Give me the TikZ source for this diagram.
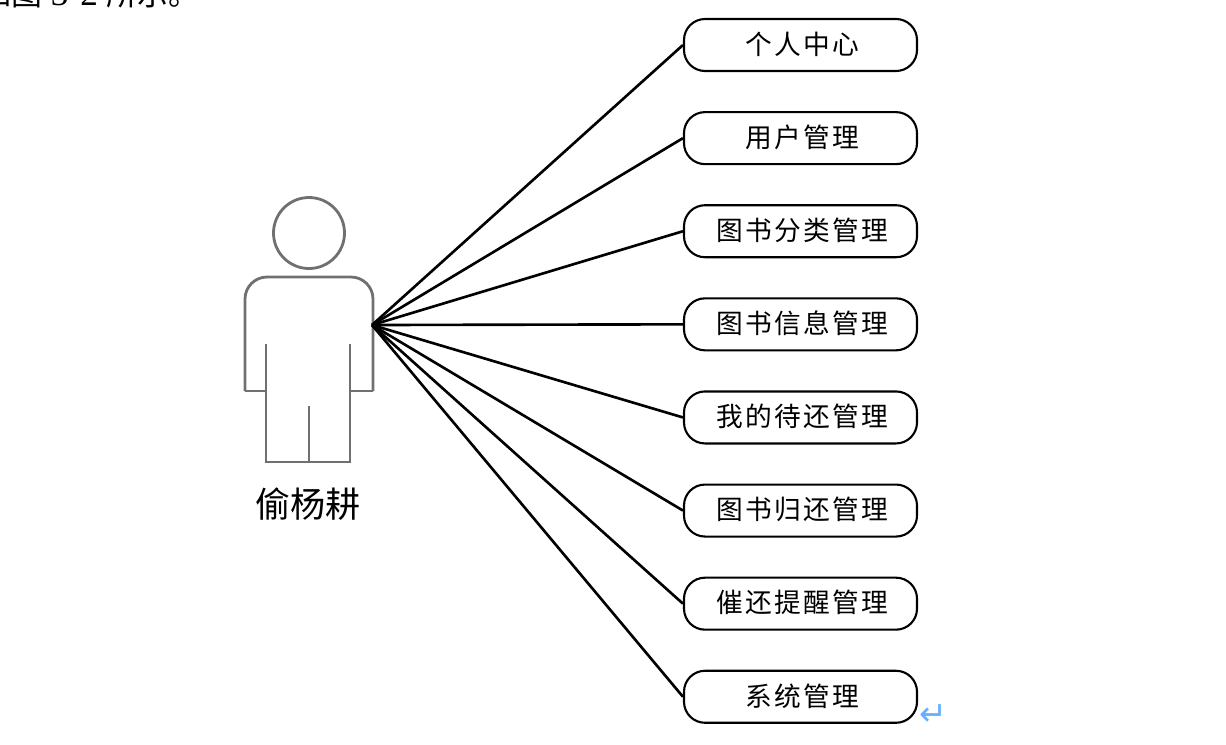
\documentclass[tikz,border=0pt]{standalone}
\usepackage{fontspec}
\setmainfont{Liberation Serif}
\newfontfamily\cjk{Noto Sans CJK SC}
\newfontfamily\cjkspaced[LetterSpace=9]{Noto Sans CJK SC}
\newfontfamily\symbolfont{DejaVu Sans}
\usetikzlibrary{positioning}
\definecolor{actorgray}{HTML}{707070}
\definecolor{markblue}{HTML}{66AEFF}

\begin{document}
\begin{tikzpicture}[
		% Style for the function boxes
		usecase/.style={
			draw=black, line width=1.2pt, fill=white, rounded corners=0.42cm,
			minimum width=4.66cm, minimum height=1.04cm, inner sep=0pt,
			text height=13pt, text depth=2.5pt,
			execute at begin node=\kern2.3pt,
			font=\cjkspaced\fontsize{15.2}{17}\selectfont
		},
		% Style for the lines from the actor
		link/.style={draw=black, line width=1.5pt},
		% Style for the actor figure
		figure/.style={draw=actorgray, line width=1.6pt}
		]
		
		\useasboundingbox (0,0) rectangle (24.52,-14.88);
		
		% ==========================================
		% 1. THE TOP: Cut-off line of body text
		% ==========================================
		\node[anchor=base west, inner sep=0pt, font=\fontsize{20}{22}\selectfont] (caption) at (-0.4,-0.1) {{\cjk\fontsize{17.6}{20}\selectfont 如图} 3-2 {\cjk\fontsize{17.6}{20}\selectfont 所示。}};
		
		% ==========================================
		% 2. THE LEFT: Actor
		% ==========================================
		\node[circle, figure, minimum size=1.42cm, inner sep=0pt] (head) at (6.18,-4.66) {};
		
		\draw[figure, rounded corners=0.44cm]
		(4.9,-7.82) [sharp corners] -- (4.9,-6.6) [rounded corners=0.44cm] -- (4.9,-5.54) -- (7.46,-5.54) -- (7.46,-6.6) [sharp corners] -- (7.46,-7.82);
		\draw[figure] (5.32,-7.82) -- (4.9,-7.82);
		\draw[figure] (7.46,-7.82) -- (7.0,-7.82);
		\draw[figure] (5.32,-6.88) -- (5.32,-9.24) -- (7.0,-9.24) -- (7.0,-6.88);
		\draw[figure] (6.18,-8.12) -- (6.18,-9.24);
		
		\node[font=\cjk\fontsize{20}{22}\selectfont, inner sep=0pt] (actorname) at (6.16,-10.08) {偷杨耕};
		
		\coordinate (hand) at (7.44,-6.5);
		
		% ==========================================
		% 3. THE RIGHT: Function boxes
		% ==========================================
		\node[usecase] (center) at (16.01,-0.9) {个人中心};
		\node[usecase, below=0.78cm of center] (users) {用户管理};
		\node[usecase, below=0.78cm of users] (category) {图书分类管理};
		\node[usecase, below=0.78cm of category] (bookinfo) {图书信息管理};
		\node[usecase, below=0.78cm of bookinfo] (pending) {我的待还管理};
		\node[usecase, below=0.78cm of pending] (returned) {图书归还管理};
		\node[usecase, below=0.78cm of returned] (reminder) {催还提醒管理};
		\node[usecase, below=0.78cm of reminder] (system) {系统管理};
		
		% Lines from the actor to each box
		\draw[link] (hand) -- (center.west);
		\draw[link] (hand) -- (users.west);
		\draw[link] (hand) -- (category.west);
		\draw[link] (hand) -- (bookinfo.west);
		\draw[link] (hand) -- (pending.west);
		\draw[link] (hand) -- (returned.west);
		\draw[link] (hand) -- (reminder.west);
		\draw[link] (hand) -- (system.west);
		
		% Paragraph mark beside the last box
		\node[font=\symbolfont\fontsize{19}{22}\selectfont, text=markblue, inner sep=0pt] (returnmark) at (18.67,-14.3) {↵};
		
	\end{tikzpicture}
\end{document}
